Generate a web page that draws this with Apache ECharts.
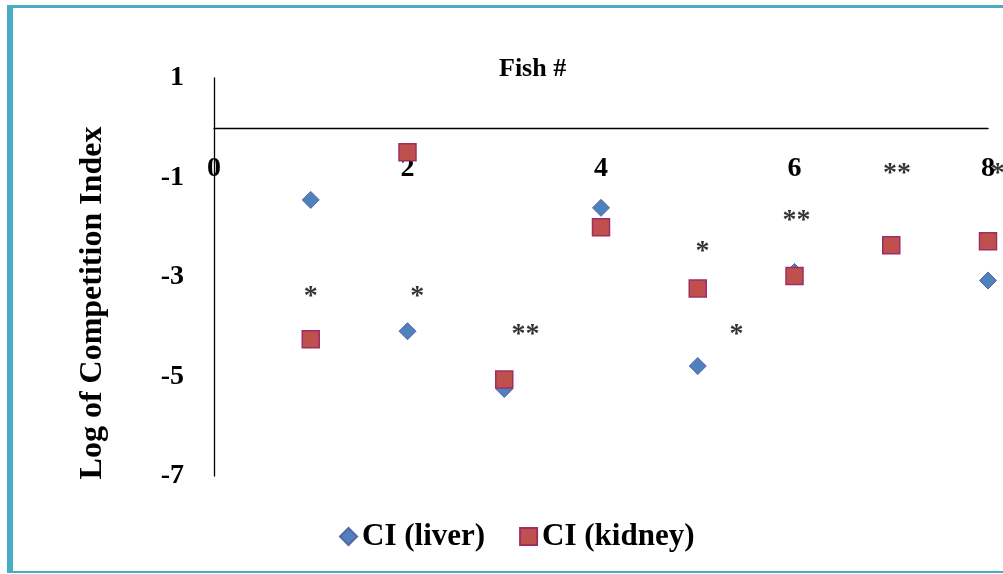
<!DOCTYPE html>
<html>
<head>
<meta charset="utf-8">
<script src="https://cdn.jsdelivr.net/npm/echarts@6/dist/echarts.min.js"></script>
<style>
  html, body { margin: 0; padding: 0; background: #ffffff; }
  #chart { width: 1003px; height: 574px; }
</style>
</head>
<body>
<div id="chart"></div>
<script>
// Fish number for each sample
var fish = [1, 2, 3, 4, 5, 6, 7, 8];
// Log competition index per organ
var liverCI = [-1.45, -4.09, -5.25, -1.61, -4.79, -2.90, -2.36, -3.07];
var kidneyCI = [-4.25, -0.49, -5.06, -2.00, -3.23, -2.98, -2.36, -2.28];
// Significance markers: [fish position, log CI position, text]
var starX = [1.0, 2.1, 3.22, 5.05, 5.4, 6.02, 7.06, 8.1];
var starY = [-3.28, -3.28, -4.04, -2.37, -4.04, -1.75, -0.81, -0.81];
var starText = ['*', '*', '**', '*', '*', '**', '**', '*'];
// Axis tick values
var yTicks = [-7, -5, -3, -1, 1];
var xTicks = [0, 2, 4, 6, 8];

var serif = "'Liberation Serif', 'Times New Roman', serif";

function pairs(xs, ys) {
  return xs.map(function (x, i) { return [x, ys[i]]; });
}

var gridTop = 78, gridBottom = 98, chartH = 574;
var plotH = chartH - gridTop - gridBottom;
// distance from the top of the plot down to the zero line of the value axis
var zeroDrop = plotH * (yTicks[yTicks.length - 1] - 0) / (yTicks[yTicks.length - 1] - yTicks[0]);

var chart = echarts.init(document.getElementById('chart'), null, { renderer: 'canvas' });

chart.setOption({
  backgroundColor: '#ffffff',
  animation: false,
  title: {
    text: 'Fish #',
    left: 494,
    top: 51,
    textStyle: { fontFamily: serif, fontWeight: 'bold', fontSize: 26, color: '#000' }
  },
  grid: { left: 214, right: 15, top: gridTop, bottom: gridBottom, containLabel: false },
  legend: {
    data: ['CI (liver)', 'CI (kidney)'],
    left: 334,
    top: 516,
    itemWidth: 17,
    itemHeight: 17,
    itemGap: 34,
    textStyle: { fontFamily: serif, fontWeight: 'bold', fontSize: 31, color: '#000' }
  },
  xAxis: {
    type: 'value',
    position: 'top',
    offset: -zeroDrop,
    min: xTicks[0],
    max: xTicks[xTicks.length - 1],
    interval: 2,
    axisLine: { onZero: false, lineStyle: { color: '#000', width: 1.3 } },
    axisTick: { show: false },
    splitLine: { show: false },
    axisLabel: {
      inside: true,
      margin: 27,
      fontFamily: serif, fontWeight: 'bold', fontSize: 28, color: '#000'
    }
  },
  yAxis: {
    type: 'value',
    min: yTicks[0],
    max: yTicks[yTicks.length - 1],
    axisLine: { show: true, onZero: false, lineStyle: { color: '#000', width: 1.3 } },
    axisTick: { show: false },
    splitLine: { show: false },
    axisLabel: {
      customValues: yTicks,
      margin: 30,
      fontFamily: serif, fontWeight: 'bold', fontSize: 28, color: '#000'
    }
  },
  graphic: [
    // frame edges
    { type: 'rect', left: 7, top: 5, shape: { width: 6, height: 568 }, style: { fill: '#4BACC6' }, silent: true },
    { type: 'rect', left: 7, top: 5, shape: { width: 996, height: 3 }, style: { fill: '#4BACC6' }, silent: true },
    { type: 'rect', left: 7, top: 571, shape: { width: 996, height: 2 }, style: { fill: '#4BACC6' }, silent: true },
    // y-axis title
    {
      type: 'text',
      x: 93, y: 303,
      rotation: Math.PI / 2,
      style: {
        text: 'Log of Competition Index',
        fontFamily: serif, fontWeight: 'bold', fontSize: 32, fill: '#000',
        align: 'center', verticalAlign: 'middle'
      },
      silent: true
    }
  ],
  series: [
    {
      name: 'CI (liver)',
      type: 'scatter',
      symbol: 'diamond',
      symbolSize: 17,
      itemStyle: { color: '#4F81BD', borderColor: '#5565A8', borderWidth: 1, opacity: 1 },
      data: pairs(fish, liverCI),
      clip: false,
      z: 3
    },
    {
      name: 'CI (kidney)',
      type: 'scatter',
      symbol: 'rect',
      symbolSize: 17,
      itemStyle: { color: '#C0504D', borderColor: '#9E2F64', borderWidth: 1.5, opacity: 1 },
      data: pairs(fish, kidneyCI),
      clip: false,
      z: 4
    },
    {
      name: 'significance',
      type: 'scatter',
      symbolSize: 0,
      silent: true,
      clip: false,
      data: starX.map(function (x, i) { return [x, starY[i], starText[i]]; }),
      label: {
        show: true,
        position: 'inside',
        offset: [0, 6],
        formatter: function (p) { return p.value[2]; },
        fontFamily: serif, fontWeight: 'bold', fontSize: 28, color: '#000'
      },
      z: 5
    }
  ]
});
</script>
</body>
</html>
